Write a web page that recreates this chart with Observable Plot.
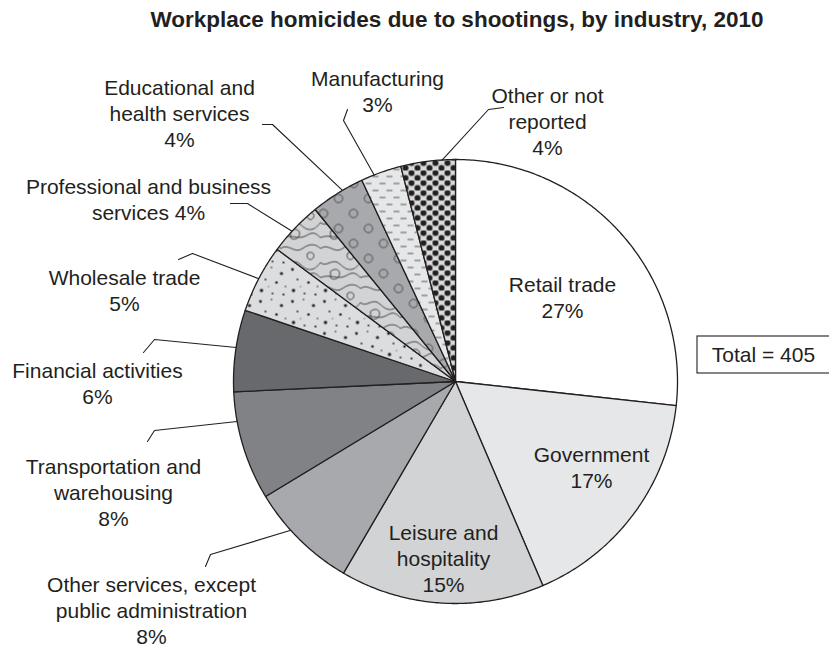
<!DOCTYPE html>
<html><head><meta charset="utf-8">
<script src="https://cdn.jsdelivr.net/npm/d3@7"></script>
<script src="https://cdn.jsdelivr.net/npm/@observablehq/plot@0.6"></script>
<style>
body{margin:0;background:#fff;font-family:"Liberation Sans",Arial,sans-serif;color:#231f20}
#title{width:829px;height:40px;line-height:40px;box-sizing:border-box;padding-left:85px;text-align:center;font-weight:bold;font-size:22.5px}
</style></head><body>
<div id="title">Workplace homicides due to shootings, by industry, 2010</div>
<div id="chart"></div>
<script>
// ---- data ----
const industries = ["Retail trade","Government","Leisure and hospitality","Other services, except public administration","Transportation and warehousing","Financial activities","Wholesale trade","Professional and business services","Educational and health services","Manufacturing","Other or not reported"];
const shares = [27,17,15,8,8,6,5,4,4,3,4];
const labelTexts = ["Retail trade\n27%","Government\n17%","Leisure and\nhospitality\n15%","Other services, except\npublic administration\n8%","Transportation and\nwarehousing\n8%","Financial activities\n6%","Wholesale trade\n5%","Professional and business\nservices 4%","Educational and\nhealth services\n4%","Manufacturing\n3%","Other or not\nreported\n4%"];
const totalText = "Total = 405";

// ---- styles ----
const fills = ["#ffffff","#e6e7e8","#d1d3d4","#a7a9ac","#808285","#68696c","url(#speckle)","url(#topo)","url(#rings)","url(#dashes)","url(#dots)"];

// ---- layout (pixel offsets from pie centre; y downward) ----
const W = 829, H = 607, cx = 455, cy = 341, R = 222;
const labelLayout = [
  {dx:107, dy:-85, leader:null},
  {dx:136, dy:85, leader:null},
  {dx:-12, dy:176, leader:null},
  {dx:-304, dy:228, leader:{pts:[[-250,185],[-245,173]], angle:227.9}},
  {dx:-342, dy:110, leader:{pts:[[-308,60],[-301,49]], angle:259.6}},
  {dx:-358, dy:1, leader:{pts:[[-312,-29],[-301,-42]], angle:278.8}},
  {dx:-331, dy:-92, leader:{pts:[[-277,-122],[-263,-128]], angle:297.6}},
  {dx:-307, dy:-183, leader:{pts:[[-225,-178],[-208,-178]], angle:312.6}},
  {dx:-276, dy:-269, leader:{pts:[[-193,-257],[-183,-257]], angle:329.4}},
  {dx:-78, dy:-291, leader:{pts:[[-108,-272],[-112,-261]], angle:338.5}},
  {dx:92, dy:-261, leader:{pts:[[48,-274],[33,-272]], angle:356.6}}
];
const totalBox = {x1:242, x2:380, y1:-45, y2:-8, tx:308, ty:-26};

// ---- geometry from data ----
const arcs = d3.pie().sort(null).value(d => d)(shares);
const polyPts = [];
arcs.forEach((a, i) => {
  polyPts.push({i, x:0, y:0});
  const n = Math.max(2, Math.ceil((a.endAngle - a.startAngle) / 0.01));
  for (let k = 0; k <= n; k++) {
    const t = a.startAngle + (a.endAngle - a.startAngle) * k / n;
    polyPts.push({i, x: R*Math.sin(t), y: -R*Math.cos(t)});
  }
  polyPts.push({i, x:0, y:0});
});
const textRows = labelTexts.map((t, i) => ({i, text:t, x:labelLayout[i].dx, y:labelLayout[i].dy}));
const leaderPts = [];
labelLayout.forEach((l, i) => {
  if (!l.leader) return;
  l.leader.pts.forEach(p => leaderPts.push({i, x:p[0], y:p[1]}));
  const a = l.leader.angle * Math.PI / 180;
  leaderPts.push({i, x: R*Math.sin(a), y: -R*Math.cos(a)});
});

const ink = "#231f20";
const font = "Liberation Sans, Arial, sans-serif";
const svg = Plot.plot({
  width: W, height: H, margin: 0,
  style: {fontFamily: font, background: "white"},
  x: {domain: [-cx, W - cx], axis: null},
  y: {domain: [-cy, H - cy], reverse: true, axis: null},
  color: {type: "identity"},
  marks: [
    Plot.line(polyPts, {x:"x", y:"y", z:"i", fill: d => fills[d.i], stroke: ink, strokeWidth: 1.3, strokeLinejoin: "round"}),
    Plot.line(leaderPts, {x:"x", y:"y", z:"i", stroke: ink, strokeWidth: 1.1}),
    Plot.text(textRows, {x:"x", y:"y", text:"text", fontSize: 21, lineHeight: 1.25, fill: ink, fontFamily: font}),
    Plot.rect([totalBox], {x1:"x1", x2:"x2", y1:"y1", y2:"y2", fill:"white", stroke: ink, strokeWidth: 1.1}),
    Plot.text([totalBox], {x:"tx", y:"ty", text: () => totalText, fontSize: 21, fill: ink, fontFamily: font})
  ]
});

// patterns
const defs = d3.select(svg).insert("defs", ":first-child");
function pat(id, w, h, bg) {
  const p = defs.append("pattern").attr("id", id).attr("patternUnits", "userSpaceOnUse").attr("width", w).attr("height", h);
  p.append("rect").attr("width", w).attr("height", h).attr("fill", bg);
  return p;
}
let p = pat("dots", 12, 10, "#d9dadb");
[[3,2.5],[9,7.5]].forEach(([x,y]) => p.append("circle").attr("cx",x).attr("cy",y).attr("r",3).attr("fill",ink));
p = pat("dashes", 14, 14, "#e6e7e8");
[[1,3,7,3],[8,10,14,10]].forEach(([a,b,c,d]) => p.append("line").attr("x1",a).attr("y1",b).attr("x2",c).attr("y2",d).attr("stroke","#6d6e71").attr("stroke-width",1.2));
p = pat("rings", 30, 30, "#a7a9ac");
[[8,8],[23,23]].forEach(([x,y]) => p.append("circle").attr("cx",x).attr("cy",y).attr("r",4.2).attr("fill","none").attr("stroke","#4d4d4f").attr("stroke-width",1));
p = pat("topo", 40, 40, "#d1d3d4");
["M0,8 C8,2 14,14 22,8 S36,4 40,8","M0,22 C6,28 12,16 20,24 S34,30 40,22","M10,31 c4,-4 10,-2 9,3 s-7,6 -9,3 z","M27,13 c3,-3 8,0 6,4 s-8,2 -6,-4 z","M0,37 C10,33 18,40 26,35 S36,34 40,37"].forEach(d => p.append("path").attr("d", d).attr("fill","none").attr("stroke",ink).attr("stroke-width",0.8));
p = pat("speckle", 32, 32, "#dcddde");
[[4,5,1.4],[15,3,0.8],[25,9,1.6],[9,15,0.9],[20,18,1.3],[29,22,0.8],[5,26,1.7],[16,29,0.9],[12,22,0.6],[27,30,1.1]].forEach(([x,y,r]) => p.append("circle").attr("cx",x).attr("cy",y).attr("r",r).attr("fill",ink));

document.getElementById("chart").appendChild(svg);
</script>
</body></html>
